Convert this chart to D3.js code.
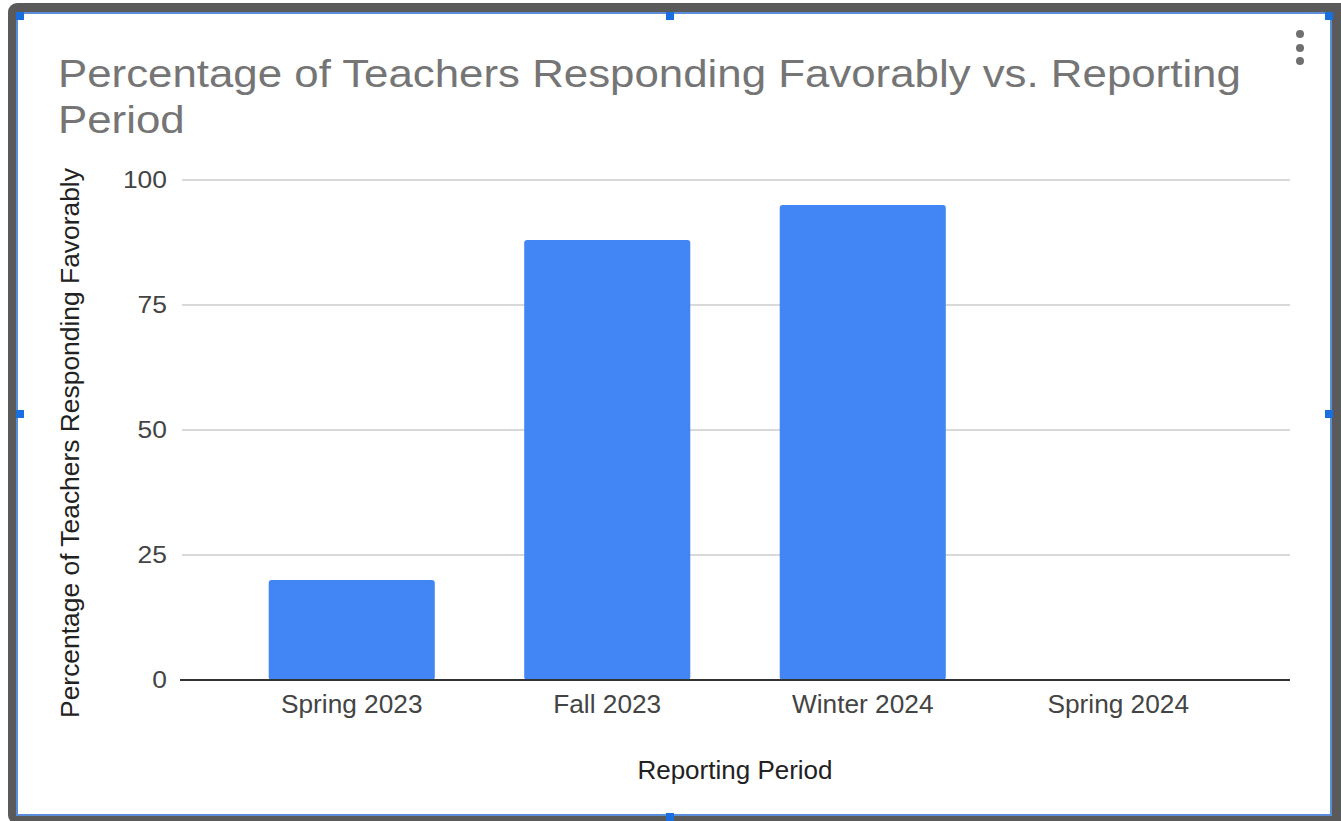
<!DOCTYPE html>
<html lang="en">
<head>
  <meta charset="utf-8">
  <title>Percentage of Teachers Responding Favorably vs. Reporting Period</title>
  <script src="https://cdn.jsdelivr.net/npm/d3@7"></script>
  <style>
    body { margin: 0; background: #fff; font-family: "Liberation Sans", Arial, sans-serif; }
  </style>
</head>
<body>
<div id="chart"></div>
<script>
const periods = ["Spring 2023", "Fall 2023", "Winter 2024", "Spring 2024"];
const favorable = [20, 88, 95, null];
const yTicks = [0, 25, 50, 75, 100];

const w = 1341, h = 821;

// the screenshot text is a little wider than plain Arial, so stretch it
function stretch(sel, k) {
  sel.each(function () {
    const len = this.getComputedTextLength();
    d3.select(this).attr("textLength", len * k).attr("lengthAdjust", "spacingAndGlyphs");
  });
}

const svg = d3.select("#chart").append("svg")
    .attr("width", w)
    .attr("height", h);

// frame of the selected chart
svg.append("rect").attr("x", 8).attr("y", 3).attr("width", w).attr("height", h)
    .attr("rx", 9).attr("fill", "#5a5a5a");
svg.append("rect").attr("x", 16).attr("y", 12).attr("width", 1316).attr("height", 804)
    .attr("fill", "#fff");
svg.append("rect").attr("x", 17).attr("y", 13).attr("width", 1314).attr("height", 802)
    .attr("fill", "none").attr("stroke", "#5b8ed8").attr("stroke-width", 2);

const handles = [[16, 12], [666, 12], [1325, 12], [16, 410], [1325, 410], [666, 813]];
svg.selectAll("rect.handle").data(handles).enter().append("rect")
    .attr("class", "handle")
    .attr("x", d => d[0]).attr("y", d => d[1])
    .attr("width", 8).attr("height", 8)
    .attr("fill", "#1a6fe0");

// menu dots
svg.selectAll("circle.dot").data([34, 48, 61]).enter().append("circle")
    .attr("class", "dot")
    .attr("cx", 1300).attr("cy", d => d).attr("r", 4)
    .attr("fill", "#707070");

// title
const title = svg.append("g").attr("fill", "#757575").attr("font-size", 38);
title.append("text").attr("x", 58).attr("y", 87)
    .text("Percentage of Teachers Responding Favorably vs. Reporting");
title.append("text").attr("x", 58).attr("y", 133)
    .text("Period");
stretch(title.selectAll("text"), 1.153);

const y = d3.scaleLinear().domain([0, 100]).range([680, 180]);
const x = d3.scaleBand().domain(periods).range([224, 1246]).paddingInner(0.35).paddingOuter(0.175);

// gridlines
svg.selectAll("line.grid").data(yTicks.filter(d => d > 0)).enter().append("line")
    .attr("class", "grid")
    .attr("x1", 182).attr("x2", 1290)
    .attr("y1", d => y(d)).attr("y2", d => y(d))
    .attr("stroke", "#cccccc").attr("stroke-width", 1.5);

// y tick labels
svg.selectAll("text.ytick").data(yTicks).enter().append("text")
    .attr("class", "ytick")
    .attr("x", 167).attr("y", d => y(d))
    .attr("dy", "0.35em")
    .attr("text-anchor", "end")
    .attr("fill", "#444")
    .attr("font-size", 24)
    .text(d => d)
    .call(stretch, 1.1);

// bars
svg.selectAll("rect.bar").data(periods.map((p, i) => ({ p, v: favorable[i] })).filter(d => d.v != null))
    .enter().append("rect")
    .attr("class", "bar")
    .attr("x", d => x(d.p))
    .attr("y", d => y(d.v))
    .attr("width", x.bandwidth())
    .attr("height", d => y(0) - y(d.v))
    .attr("rx", 3)
    .attr("fill", "#4285f4");

// baseline
svg.append("line")
    .attr("x1", 180).attr("x2", 1290)
    .attr("y1", y(0)).attr("y2", y(0))
    .attr("stroke", "#333").attr("stroke-width", 2);

// x tick labels
svg.selectAll("text.xtick").data(periods).enter().append("text")
    .attr("class", "xtick")
    .attr("x", d => x(d) + x.bandwidth() / 2)
    .attr("y", 713)
    .attr("text-anchor", "middle")
    .attr("fill", "#444")
    .attr("font-size", 25)
    .text(d => d)
    .call(stretch, 1.05);

// axis titles
svg.append("text")
    .attr("x", 735).attr("y", 779)
    .attr("text-anchor", "middle")
    .attr("fill", "#222")
    .attr("font-size", 25)
    .text("Reporting Period")
    .call(stretch, 1.04);

svg.append("text")
    .attr("transform", "translate(79,443) rotate(-90)")
    .attr("text-anchor", "middle")
    .attr("fill", "#222")
    .attr("font-size", 25)
    .text("Percentage of Teachers Responding Favorably")
    .call(stretch, 1.056);
</script>
</body>
</html>
